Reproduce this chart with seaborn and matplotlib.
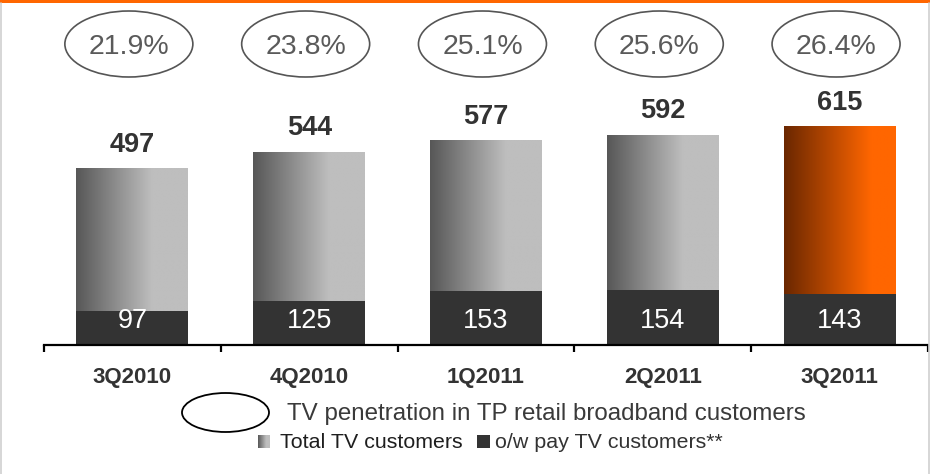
import numpy as np
import pandas as pd
import matplotlib
matplotlib.use("Agg")
import matplotlib.pyplot as plt
import seaborn as sns
from matplotlib.patches import Ellipse, Rectangle
from matplotlib.lines import Line2D
from matplotlib.colors import LinearSegmentedColormap

# Quarterly TV customer figures (thousands) and TV penetration (%)
quarters = ["3Q2010", "4Q2010", "1Q2011", "2Q2011", "3Q2011"]
total_tv = [497, 544, 577, 592, 615]
pay_tv = [97, 125, 153, 154, 143]
penetration = [21.9, 23.8, 25.1, 25.6, 26.4]

df = pd.DataFrame({"quarter": quarters, "total": total_tv, "pay": pay_tv})

sns.set_theme(style="white")
plt.rcParams["font.family"] = ["Liberation Sans", "DejaVu Sans"]

W, H = 930, 474
fig = plt.figure(figsize=(W / 100, H / 100), dpi=100)
fig.patch.set_facecolor("white")

base_px = 345          # baseline position from top (px)
px_per_unit = 0.3545
ax = fig.add_axes([44 / W, 1 - base_px / H, 884 / W, base_px / H])
ax.set_facecolor("none")

bar_w = 0.633
gray_cmap = LinearSegmentedColormap.from_list(
    "gray_grad", [(0, "#575757"), (0.68, "#bebebe"), (1, "#bebebe")])
orange_cmap = LinearSegmentedColormap.from_list(
    "orange_grad", [(0, "#6a2700"), (0.78, "#ff6600"), (1, "#ff6600")])
dark = "#333333"

# Total TV customers (gradient fill applied on top of the bar patches)
sns.barplot(data=df, x="quarter", y="total", color="#999999", width=bar_w,
            saturation=1, ax=ax, zorder=1, linewidth=0, edgecolor="none")
total_patches = list(ax.patches)
grad = np.linspace(0, 1, 256).reshape(1, -1)
for i, p in enumerate(total_patches):
    x0, w, h = p.get_x(), p.get_width(), p.get_height()
    cmap = orange_cmap if i == len(total_patches) - 1 else gray_cmap
    ax.imshow(grad, extent=[x0, x0 + w, 0, h], cmap=cmap, aspect="auto",
              interpolation="bilinear", zorder=1.5)
    p.set_facecolor("none")
    p.set_edgecolor("none")

# Pay TV customers
sns.barplot(data=df, x="quarter", y="pay", color=dark, width=bar_w,
            saturation=1, ax=ax, zorder=2, linewidth=0, edgecolor="none")

ax.set_xlim(-0.5, len(quarters) - 0.5)
ax.set_ylim(0, base_px / px_per_unit)

# Value labels
for i, (t, p_) in enumerate(zip(total_tv, pay_tv)):
    ax.annotate(f"{t}", (i, t), xytext=(0, 12.2), textcoords="offset points",
                ha="center", va="baseline", fontsize=19.5, fontweight="bold",
                color="#333333", zorder=5)
    ax.text(i, 17 / px_per_unit, f"{p_}", ha="center", va="baseline",
            fontsize=19.5, color="white", zorder=5)

# Penetration ellipses above the bars
ell_y = (base_px - 44) / px_per_unit
for i, pen in enumerate(penetration):
    ax.add_patch(Ellipse((i - 0.02, ell_y), width=128 / 176.8,
                         height=66 / px_per_unit, facecolor="none",
                         edgecolor="#555555", linewidth=1.2, clip_on=False,
                         zorder=4))
    ax.text(i - 0.02, ell_y, f"{pen:.1f}%", ha="center", va="center_baseline",
            fontsize=20.5, color="#5a5a5a", zorder=5)

# Axis styling
for side in ["top", "left", "right"]:
    ax.spines[side].set_visible(False)
ax.spines["bottom"].set_color("black")
ax.spines["bottom"].set_linewidth(1.6)
ax.set_yticks([])
ax.set_xlabel("")
ax.set_ylabel("")
ax.set_xticks(np.arange(-0.5, len(quarters)), minor=True)
ax.tick_params(axis="x", which="minor", length=5, width=1.6, color="black",
               direction="out", bottom=True)
ax.tick_params(axis="x", which="major", length=0, pad=16)
for lbl in ax.get_xticklabels():
    lbl.set_fontsize(16)
    lbl.set_fontweight("bold")
    lbl.set_color("#333333")

# Legend
fig.patches.append(Ellipse((225.5 / W, 1 - 412.5 / H), width=87 / W,
                           height=39 / H, transform=fig.transFigure,
                           facecolor="none", edgecolor="black", linewidth=1.3))
fig.text(287 / W, 1 - 420 / H, "TV penetration in TP retail broadband customers",
         ha="left", va="baseline", fontsize=17.4, color="#3a3a3a")

sq = fig.add_axes([258 / W, 1 - 448 / H, 12 / W, 13 / H])
sq.imshow(grad, cmap=gray_cmap, aspect="auto", interpolation="bilinear")
sq.axis("off")
fig.text(280 / W, 1 - 448 / H, "Total TV customers", ha="left",
         va="baseline", fontsize=15.4, color="#1e1e1e")
fig.patches.append(Rectangle((477 / W, 1 - 448 / H), 13 / W, 13 / H,
                             transform=fig.transFigure, facecolor=dark,
                             edgecolor="none"))
fig.text(495 / W, 1 - 448 / H, "o/w pay TV customers**", ha="left",
         va="baseline", fontsize=15.4, color="#333333")

# Frame accents
fig.patches.append(Rectangle((0, 1 - 3 / H), 1, 3 / H, transform=fig.transFigure,
                             facecolor="#ff6600", edgecolor="none"))
fig.lines.append(Line2D([0.5 / W, 0.5 / W], [0, 1 - 3 / H],
                        transform=fig.transFigure, color="#cfcfcf", linewidth=1.2))
fig.lines.append(Line2D([928.5 / W, 928.5 / W], [0, 1 - 3 / H],
                        transform=fig.transFigure, color="#cfcfcf", linewidth=1.2))

fig.savefig("out.png", dpi=100, facecolor="white")
